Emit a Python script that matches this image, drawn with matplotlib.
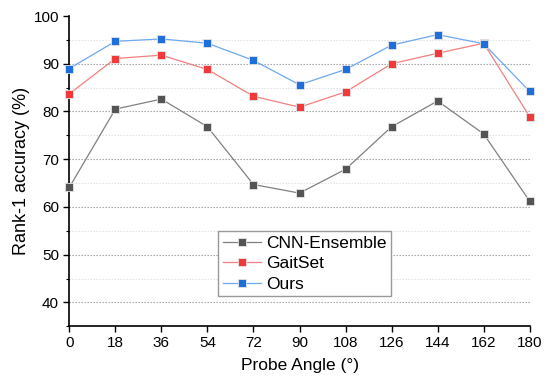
import numpy as np
import matplotlib.pyplot as plt
from matplotlib.ticker import MultipleLocator

plt.rcParams['font.family'] = ['Liberation Sans', 'DejaVu Sans']

# Daten
angles = [0, 18, 36, 54, 72, 90, 108, 126, 144, 162, 180]
cnn_ensemble = [64.1, 80.5, 82.6, 76.8, 64.7, 62.9, 67.9, 76.8, 82.2, 75.3, 61.2]
gaitset = [83.7, 91.1, 91.8, 88.8, 83.2, 80.9, 84.1, 90.0, 92.2, 94.3, 78.9]
ours = [89.0, 94.7, 95.2, 94.3, 90.7, 85.6, 88.8, 93.9, 96.1, 94.2, 84.2]

fig = plt.figure(figsize=(5.48, 3.76), dpi=100)
ax = fig.add_axes([0.1265, 0.1322, 0.8401, 0.8252])

series = [
    ('CNN-Ensemble', cnn_ensemble, '#545454', '#808080'),
    ('GaitSet', gaitset, '#f0393b', '#f47f7f'),
    ('Ours', ours, '#1e6fdc', '#6ea8ee'),
]
for label, vals, mc, lc in series:
    ax.plot(angles, vals, '-', color=lc, linewidth=0.9, marker='s', markersize=6,
            markerfacecolor=mc, markeredgecolor='#e4e4e4', markeredgewidth=0.6,
            label=label, clip_on=False, zorder=3)

ax.set_xlim(0, 180)
ax.set_ylim(35, 100)
ax.set_xticks(angles)
ax.yaxis.set_major_locator(MultipleLocator(10))
ax.yaxis.set_minor_locator(MultipleLocator(5))

# Gitter (ohne Linie bei 100)
ax.grid(True, axis='y', which='major', color='#9a9a9a', linestyle=(0, (1.2, 1.5)), linewidth=0.8)
ax.grid(True, axis='y', which='minor', color='#dedede', linestyle=(0, (1.2, 1.5)), linewidth=0.8)
ax.set_axisbelow(True)
fig.canvas.draw()
for t in ax.yaxis.get_major_ticks():
    if abs(t.get_loc() - 100) < 1e-6:
        t.gridline.set_visible(False)

for s in ['top', 'right']:
    ax.spines[s].set_visible(False)
ax.spines['left'].set_linewidth(1.2)
ax.spines['bottom'].set_linewidth(1.2)
ax.tick_params(axis='y', which='major', direction='out', length=4.5, width=1.0, labelsize=11, pad=3)
ax.tick_params(axis='x', which='major', direction='out', length=4.2, width=1.0, labelsize=11, pad=2.5)
ax.tick_params(axis='y', which='minor', direction='out', length=2.2, width=0.8)

ax.set_xlabel('Probe Angle (°)', fontsize=12.5)
ax.set_ylabel('Rank-1 accuracy (%)', fontsize=13)
ax.xaxis.set_label_coords(0.5, -0.103)
ax.yaxis.set_label_coords(-0.085, 0.5)

leg = ax.legend(loc='lower left', bbox_to_anchor=(0.3236, 0.0977), fontsize=12.5,
                frameon=True, fancybox=False, handlelength=2.2, borderpad=0.25,
                labelspacing=0.3, handletextpad=0.28, borderaxespad=0, framealpha=1)
leg.get_frame().set_edgecolor('#999999')
leg.get_frame().set_linewidth(1.0)

fig.savefig('out.png', dpi=100)
